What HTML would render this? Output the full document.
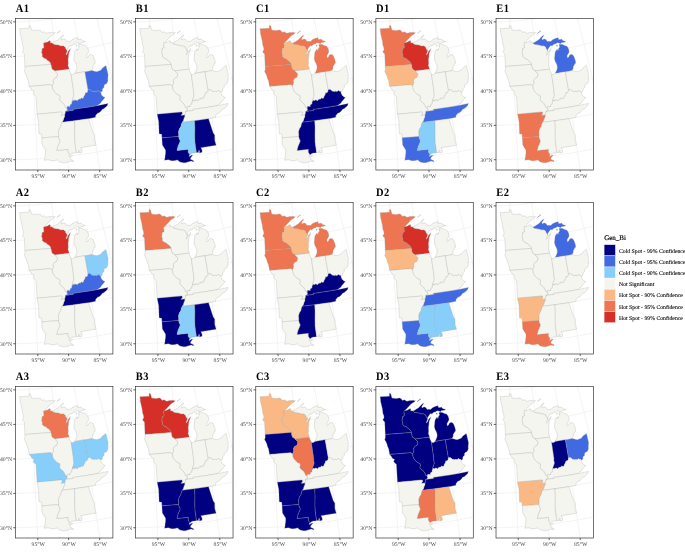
<!DOCTYPE html>
<html><head><meta charset="utf-8"><style>
html,body{margin:0;padding:0;background:#fff;}
svg{display:block;will-change:transform;}
text{text-rendering:geometricPrecision;}
.t{font-family:"Liberation Serif",serif;font-weight:bold;font-size:11.4px;letter-spacing:0.5px;fill:#000;}
.al{font-family:"Liberation Serif",serif;font-size:5.75px;fill:#4d4d4d;}
.lt{font-family:"Liberation Serif",serif;font-size:7px;fill:#000;stroke:#000;stroke-width:0.18px;}
.ll{font-family:"Liberation Serif",serif;font-size:5.75px;fill:#000;stroke:#000;stroke-width:0.1px;}
.gr{fill:none;stroke:#e2e2e2;stroke-width:0.4;}
.st use{stroke:#a0a0a0;stroke-width:0.28;stroke-linejoin:round;}
.fr{fill:none;stroke:#333;stroke-width:0.68;}
.tk{stroke:#333;stroke-width:0.75;}
</style></head><body>
<svg width="685" height="552" viewBox="0 0 685 552">
<defs><clipPath id="cp"><rect x="0" y="0" width="97.40" height="151.50"/></clipPath><path id="grat" d="M-71.78,171.85 -68.63,172.19 -65.47,172.52 -62.31,172.84 -59.15,173.13 -55.99,173.41 -52.82,173.67 -49.66,173.91 -46.49,174.13 -43.32,174.34 -40.15,174.53 -36.97,174.70 -33.80,174.85 -30.63,174.98 -27.45,175.10 -24.27,175.20 -21.10,175.28 -17.92,175.34 -14.74,175.39 -11.56,175.41 -8.39,175.42 -5.21,175.41 -2.03,175.39 1.15,175.34 4.32,175.28 7.50,175.20 10.68,175.10 13.85,174.98 17.03,174.85 20.20,174.70 23.37,174.53 26.54,174.34 29.71,174.13 32.88,173.91 36.05,173.67 39.21,173.41 42.38,173.13 45.54,172.84 48.70,172.52 51.85,172.19 55.01,171.85 58.16,171.48 61.31,171.09 64.46,170.69 67.60,170.27 70.74,169.83 73.88,169.38 77.02,168.91 80.15,168.41 83.28,167.90 86.40,167.38 89.52,166.83 92.64,166.27 95.75,165.69 98.86,165.09 101.97,164.47 105.07,163.84 108.16,163.19 111.25,162.52 114.34,161.83 117.42,161.12 120.50,160.40 123.57,159.66 126.64,158.90 129.70,158.12 132.76,157.33 135.81,156.52 138.85,155.69 141.89,154.84 144.93,153.97 147.95,153.09 150.97,152.19 153.99,151.27 157.00,150.33 160.00,149.38 162.99,148.41 165.98,147.42 168.96,146.41 171.94,145.38 174.90,144.34 177.86,143.28 M-68.55,137.82 -65.56,138.16 -62.56,138.48 -59.56,138.78 -56.56,139.07 -53.56,139.34 -50.56,139.59 -47.55,139.83 -44.55,140.04 -41.54,140.24 -38.53,140.42 -35.52,140.59 -32.51,140.74 -29.49,140.87 -26.48,140.98 -23.47,141.08 -20.45,141.16 -17.44,141.22 -14.42,141.26 -11.40,141.29 -8.39,141.29 -5.37,141.29 -2.35,141.26 0.66,141.22 3.68,141.16 6.69,141.08 9.71,140.98 12.72,140.87 15.73,140.74 18.75,140.59 21.76,140.42 24.77,140.24 27.77,140.04 30.78,139.83 33.79,139.59 36.79,139.34 39.79,139.07 42.79,138.78 45.79,138.48 48.78,138.16 51.78,137.82 54.77,137.46 57.75,137.09 60.74,136.70 63.72,136.29 66.70,135.86 69.68,135.42 72.65,134.96 75.62,134.48 78.59,133.99 81.55,133.47 84.51,132.94 87.47,132.40 90.42,131.83 93.36,131.25 96.31,130.65 99.25,130.04 102.18,129.40 105.11,128.75 108.04,128.08 110.96,127.40 113.87,126.70 116.78,125.98 119.69,125.24 122.59,124.48 125.48,123.71 128.37,122.92 131.25,122.12 134.13,121.29 137.00,120.45 139.87,119.59 142.73,118.72 145.58,117.83 148.43,116.92 151.27,115.99 154.10,115.05 156.93,114.09 159.74,113.11 162.56,112.11 165.36,111.10 168.16,110.07 M-65.01,103.62 -62.20,103.95 -59.38,104.26 -56.56,104.55 -53.74,104.83 -50.91,105.09 -48.08,105.33 -45.26,105.55 -42.43,105.76 -39.59,105.96 -36.76,106.13 -33.93,106.29 -31.09,106.43 -28.26,106.56 -25.42,106.67 -22.58,106.76 -19.74,106.84 -16.90,106.90 -14.07,106.94 -11.23,106.96 -8.39,106.97 -5.55,106.96 -2.71,106.94 0.13,106.90 2.97,106.84 5.81,106.76 8.65,106.67 11.48,106.56 14.32,106.43 17.15,106.29 19.99,106.13 22.82,105.96 25.65,105.76 28.48,105.55 31.31,105.33 34.14,105.09 36.96,104.83 39.78,104.55 42.61,104.26 45.42,103.95 48.24,103.62 51.05,103.28 53.87,102.92 56.67,102.54 59.48,102.15 62.28,101.74 65.08,101.31 67.88,100.87 70.67,100.41 73.46,99.93 76.25,99.44 79.03,98.93 81.81,98.40 84.59,97.86 87.36,97.30 90.12,96.72 92.89,96.13 95.64,95.52 98.40,94.89 101.15,94.25 103.89,93.59 106.63,92.91 109.37,92.22 112.09,91.51 114.82,90.78 117.54,90.04 120.25,89.28 122.96,88.50 125.66,87.71 128.35,86.90 131.04,86.08 133.73,85.23 136.40,84.38 139.07,83.50 141.74,82.61 144.40,81.70 147.05,80.78 149.69,79.84 152.33,78.88 154.96,77.90 157.58,76.91 M-61.18,69.32 -58.56,69.63 -55.93,69.93 -53.30,70.21 -50.67,70.47 -48.04,70.72 -45.40,70.95 -42.76,71.17 -40.13,71.37 -37.49,71.55 -34.84,71.72 -32.20,71.87 -29.56,72.00 -26.91,72.12 -24.27,72.23 -21.62,72.32 -18.98,72.39 -16.33,72.44 -13.68,72.48 -11.03,72.51 -8.39,72.52 -5.74,72.51 -3.09,72.48 -0.44,72.44 2.20,72.39 4.85,72.32 7.50,72.23 10.14,72.12 12.79,72.00 15.43,71.87 18.07,71.72 20.71,71.55 23.35,71.37 25.99,71.17 28.63,70.95 31.26,70.72 33.90,70.47 36.53,70.21 39.16,69.93 41.78,69.63 44.41,69.32 47.03,68.99 49.65,68.65 52.27,68.29 54.88,67.92 57.50,67.53 60.11,67.12 62.71,66.70 65.31,66.26 67.91,65.80 70.51,65.33 73.10,64.85 75.69,64.34 78.27,63.83 80.85,63.29 83.43,62.74 86.00,62.18 88.57,61.59 91.13,61.00 93.69,60.38 96.25,59.76 98.80,59.11 101.34,58.45 103.88,57.77 106.41,57.08 108.94,56.38 111.47,55.65 113.98,54.91 116.50,54.16 119.00,53.39 121.50,52.60 124.00,51.80 126.49,50.98 128.97,50.15 131.44,49.30 133.91,48.44 136.38,47.56 138.83,46.66 141.28,45.75 143.72,44.82 146.16,43.88 M-57.07,34.98 -54.65,35.28 -52.23,35.56 -49.80,35.82 -47.38,36.07 -44.95,36.30 -42.52,36.52 -40.09,36.72 -37.65,36.91 -35.22,37.08 -32.79,37.24 -30.35,37.38 -27.91,37.51 -25.47,37.63 -23.03,37.72 -20.59,37.81 -18.15,37.87 -15.71,37.93 -13.27,37.96 -10.83,37.99 -8.39,37.99 -5.95,37.99 -3.50,37.96 -1.06,37.93 1.38,37.87 3.82,37.81 6.26,37.72 8.70,37.63 11.14,37.51 13.57,37.38 16.01,37.24 18.45,37.08 20.88,36.91 23.31,36.72 25.74,36.52 28.17,36.30 30.60,36.07 33.03,35.82 35.45,35.56 37.87,35.28 40.29,34.98 42.71,34.68 45.13,34.35 47.54,34.01 49.95,33.66 52.35,33.29 54.76,32.91 57.16,32.51 59.56,32.10 61.95,31.67 64.34,31.22 66.73,30.77 69.11,30.29 71.49,29.81 73.87,29.30 76.24,28.78 78.61,28.25 80.98,27.70 83.34,27.14 85.69,26.56 88.04,25.97 90.39,25.37 92.73,24.74 95.07,24.11 97.40,23.46 99.72,22.79 102.04,22.11 104.36,21.41 106.67,20.70 108.97,19.98 111.27,19.24 113.57,18.48 115.85,17.71 118.13,16.93 120.41,16.13 122.68,15.32 124.94,14.49 127.19,13.65 129.44,12.79 131.68,11.92 133.92,11.03 M-52.67,0.67 -50.47,0.95 -48.27,1.21 -46.07,1.45 -43.86,1.68 -41.65,1.90 -39.44,2.10 -37.23,2.29 -35.02,2.47 -32.80,2.63 -30.59,2.77 -28.37,2.91 -26.15,3.03 -23.93,3.13 -21.71,3.22 -19.49,3.30 -17.27,3.36 -15.05,3.41 -12.83,3.45 -10.61,3.47 -8.39,3.47 -6.17,3.47 -3.94,3.45 -1.72,3.41 0.50,3.36 2.72,3.30 4.94,3.22 7.16,3.13 9.38,3.03 11.60,2.91 13.81,2.77 16.03,2.63 18.24,2.47 20.46,2.29 22.67,2.10 24.88,1.90 27.09,1.68 29.29,1.45 31.50,1.21 33.70,0.95 35.90,0.67 38.10,0.39 40.29,0.09 42.49,-0.23 44.68,-0.56 46.87,-0.90 49.05,-1.25 51.23,-1.62 53.41,-2.01 55.59,-2.41 57.76,-2.82 59.93,-3.24 62.10,-3.68 64.26,-4.14 66.42,-4.60 68.58,-5.09 70.73,-5.58 72.88,-6.09 75.02,-6.61 77.16,-7.15 79.29,-7.70 81.42,-8.26 83.55,-8.84 85.67,-9.43 87.79,-10.03 89.90,-10.65 92.00,-11.28 94.10,-11.93 96.20,-12.59 98.29,-13.26 100.38,-13.95 102.46,-14.65 104.53,-15.36 106.60,-16.09 108.66,-16.83 110.71,-17.59 112.76,-18.35 114.81,-19.14 116.84,-19.93 118.87,-20.74 120.90,-21.56 M-48.01,-33.54 -46.04,-33.29 -44.07,-33.05 -42.10,-32.83 -40.13,-32.62 -38.15,-32.42 -36.17,-32.23 -34.20,-32.06 -32.22,-31.90 -30.23,-31.76 -28.25,-31.62 -26.27,-31.50 -24.28,-31.39 -22.30,-31.29 -20.31,-31.21 -18.33,-31.14 -16.34,-31.08 -14.35,-31.04 -12.36,-31.01 -10.38,-30.99 -8.39,-30.98 -6.40,-30.99 -4.41,-31.01 -2.42,-31.04 -0.44,-31.08 1.55,-31.14 3.54,-31.21 5.52,-31.29 7.51,-31.39 9.49,-31.50 11.48,-31.62 13.46,-31.76 15.44,-31.90 17.42,-32.06 19.40,-32.23 21.38,-32.42 23.35,-32.62 25.33,-32.83 27.30,-33.05 29.27,-33.29 31.24,-33.54 33.20,-33.80 35.17,-34.08 37.13,-34.36 39.09,-34.66 41.04,-34.98 43.00,-35.30 44.95,-35.64 46.90,-35.99 48.84,-36.35 50.79,-36.73 52.73,-37.12 54.66,-37.52 56.59,-37.93 58.52,-38.36 60.45,-38.80 62.37,-39.25 64.29,-39.72 66.20,-40.19 68.11,-40.68 70.02,-41.19 71.92,-41.70 73.82,-42.23 75.71,-42.77 77.60,-43.32 79.49,-43.88 81.37,-44.46 83.24,-45.05 85.11,-45.65 86.98,-46.26 88.83,-46.89 90.69,-47.53 92.54,-48.18 94.38,-48.84 96.22,-49.52 98.05,-50.21 99.88,-50.91 101.70,-51.62 103.51,-52.34 105.32,-53.08 107.12,-53.83 M-41.60,208.37 -41.47,205.00 -41.33,201.63 -41.18,198.25 -41.04,194.87 -40.89,191.49 -40.75,188.10 -40.60,184.71 -40.45,181.32 -40.30,177.92 -40.15,174.53 -39.99,171.13 -39.83,167.72 -39.68,164.32 -39.52,160.91 -39.36,157.50 -39.19,154.09 -39.03,150.68 -38.87,147.26 -38.70,143.84 -38.53,140.42 -38.36,137.00 -38.19,133.58 -38.02,130.15 -37.84,126.73 -37.66,123.30 -37.49,119.87 -37.31,116.44 -37.13,113.00 -36.94,109.57 -36.76,106.13 -36.58,102.70 -36.39,99.26 -36.20,95.82 -36.01,92.38 -35.82,88.94 -35.63,85.49 -35.44,82.05 -35.24,78.61 -35.04,75.16 -34.84,71.72 -34.65,68.27 -34.44,64.82 -34.24,61.38 -34.04,57.93 -33.83,54.48 -33.63,51.03 -33.42,47.59 -33.21,44.14 -33.00,40.69 -32.79,37.24 -32.57,33.79 -32.36,30.35 -32.14,26.90 -31.92,23.45 -31.70,20.00 -31.48,16.56 -31.26,13.11 -31.04,9.66 -30.81,6.22 -30.59,2.77 -30.36,-0.67 -30.13,-4.11 -29.90,-7.56 -29.67,-11.00 -29.44,-14.44 -29.20,-17.88 -28.97,-21.31 -28.73,-24.75 -28.49,-28.19 -28.25,-31.62 -28.01,-35.05 -27.77,-38.49 -27.53,-41.92 -27.28,-45.34 -27.03,-48.77 -26.79,-52.20 -26.54,-55.62 -26.29,-59.04 -26.04,-62.46 -25.79,-65.88 M-8.39,209.29 -8.39,205.91 -8.39,202.54 -8.39,199.16 -8.39,195.78 -8.39,192.39 -8.39,189.00 -8.39,185.61 -8.39,182.22 -8.39,178.82 -8.39,175.42 -8.39,172.02 -8.39,168.61 -8.39,165.21 -8.39,161.80 -8.39,158.39 -8.39,154.97 -8.39,151.56 -8.39,148.14 -8.39,144.72 -8.39,141.29 -8.39,137.87 -8.39,134.44 -8.39,131.01 -8.39,127.58 -8.39,124.15 -8.39,120.72 -8.39,117.28 -8.39,113.85 -8.39,110.41 -8.39,106.97 -8.39,103.53 -8.39,100.09 -8.39,96.64 -8.39,93.20 -8.39,89.76 -8.39,86.31 -8.39,82.86 -8.39,79.41 -8.39,75.97 -8.39,72.52 -8.39,69.07 -8.39,65.61 -8.39,62.16 -8.39,58.71 -8.39,55.26 -8.39,51.81 -8.39,48.35 -8.39,44.90 -8.39,41.45 -8.39,37.99 -8.39,34.54 -8.39,31.09 -8.39,27.64 -8.39,24.18 -8.39,20.73 -8.39,17.28 -8.39,13.83 -8.39,10.38 -8.39,6.92 -8.39,3.47 -8.39,0.02 -8.39,-3.42 -8.39,-6.87 -8.39,-10.32 -8.39,-13.77 -8.39,-17.21 -8.39,-20.65 -8.39,-24.10 -8.39,-27.54 -8.39,-30.98 -8.39,-34.42 -8.39,-37.86 -8.39,-41.29 -8.39,-44.73 -8.39,-48.16 -8.39,-51.59 -8.39,-55.02 -8.39,-58.45 -8.39,-61.88 -8.39,-65.30 M24.83,208.37 24.69,205.00 24.55,201.63 24.41,198.25 24.27,194.87 24.12,191.49 23.97,188.10 23.83,184.71 23.68,181.32 23.52,177.92 23.37,174.53 23.22,171.13 23.06,167.72 22.90,164.32 22.74,160.91 22.58,157.50 22.42,154.09 22.26,150.68 22.09,147.26 21.92,143.84 21.76,140.42 21.59,137.00 21.41,133.58 21.24,130.15 21.07,126.73 20.89,123.30 20.71,119.87 20.53,116.44 20.35,113.00 20.17,109.57 19.99,106.13 19.80,102.70 19.62,99.26 19.43,95.82 19.24,92.38 19.05,88.94 18.86,85.49 18.66,82.05 18.47,78.61 18.27,75.16 18.07,71.72 17.87,68.27 17.67,64.82 17.47,61.38 17.26,57.93 17.06,54.48 16.85,51.03 16.64,47.59 16.43,44.14 16.22,40.69 16.01,37.24 15.80,33.79 15.58,30.35 15.37,26.90 15.15,23.45 14.93,20.00 14.71,16.56 14.49,13.11 14.26,9.66 14.04,6.22 13.81,2.77 13.58,-0.67 13.36,-4.11 13.13,-7.56 12.89,-11.00 12.66,-14.44 12.43,-17.88 12.19,-21.31 11.96,-24.75 11.72,-28.19 11.48,-31.62 11.24,-35.05 10.99,-38.49 10.75,-41.92 10.51,-45.34 10.26,-48.77 10.01,-52.20 9.77,-55.62 9.52,-59.04 9.26,-62.46 9.01,-65.88 M57.93,205.64 57.65,202.27 57.37,198.90 57.08,195.53 56.80,192.15 56.51,188.78 56.21,185.39 55.92,182.01 55.62,178.63 55.31,175.24 55.01,171.85 54.70,168.45 54.39,165.06 54.07,161.66 53.75,158.26 53.43,154.86 53.11,151.45 52.78,148.05 52.45,144.64 52.11,141.23 51.78,137.82 51.44,134.40 51.09,130.99 50.75,127.57 50.40,124.16 50.05,120.74 49.69,117.32 49.33,113.89 48.97,110.47 48.61,107.05 48.24,103.62 47.87,100.19 47.50,96.77 47.12,93.34 46.74,89.91 46.36,86.48 45.98,83.05 45.59,79.62 45.20,76.19 44.81,72.75 44.41,69.32 44.01,65.89 43.61,62.45 43.20,59.02 42.80,55.59 42.39,52.15 41.97,48.72 41.56,45.28 41.14,41.85 40.72,38.42 40.29,34.98 39.87,31.55 39.44,28.12 39.00,24.68 38.57,21.25 38.13,17.82 37.69,14.39 37.25,10.96 36.80,7.53 36.35,4.10 35.90,0.67 35.45,-2.75 34.99,-6.18 34.53,-9.60 34.07,-13.03 33.60,-16.45 33.13,-19.87 32.66,-23.29 32.19,-26.71 31.72,-30.12 31.24,-33.54 30.76,-36.95 30.27,-40.36 29.79,-43.77 29.30,-47.18 28.81,-50.59 28.31,-53.99 27.82,-57.40 27.32,-60.80 26.82,-64.20 26.31,-67.59 M90.78,201.08 90.36,197.72 89.94,194.36 89.52,190.99 89.08,187.63 88.65,184.26 88.21,180.89 87.76,177.51 87.31,174.14 86.86,170.76 86.40,167.38 85.94,163.99 85.47,160.61 84.99,157.22 84.52,153.84 84.03,150.45 83.55,147.06 83.05,143.66 82.56,140.27 82.06,136.87 81.55,133.47 81.04,130.08 80.53,126.68 80.01,123.27 79.48,119.87 78.96,116.47 78.42,113.06 77.89,109.66 77.35,106.25 76.80,102.84 76.25,99.44 75.69,96.03 75.14,92.62 74.57,89.21 74.00,85.80 73.43,82.39 72.86,78.98 72.28,75.57 71.69,72.16 71.10,68.74 70.51,65.33 69.91,61.92 69.31,58.51 68.70,55.10 68.09,51.69 67.48,48.27 66.86,44.86 66.24,41.45 65.61,38.04 64.98,34.63 64.34,31.22 63.70,27.82 63.06,24.41 62.41,21.00 61.76,17.60 61.10,14.19 60.44,10.79 59.78,7.38 59.11,3.98 58.44,0.58 57.76,-2.82 57.08,-6.22 56.40,-9.61 55.71,-13.01 55.02,-16.40 54.32,-19.80 53.62,-23.19 52.92,-26.57 52.21,-29.96 51.50,-33.35 50.79,-36.73 50.07,-40.11 49.34,-43.49 48.62,-46.87 47.89,-50.24 47.15,-53.62 46.41,-56.99 45.67,-60.36 44.93,-63.72 44.18,-67.08 43.42,-70.45 M123.27,194.70 122.71,191.35 122.15,188.00 121.58,184.65 121.01,181.29 120.42,177.94 119.84,174.58 119.24,171.22 118.64,167.85 118.04,164.49 117.42,161.12 116.80,157.76 116.18,154.39 115.55,151.02 114.91,147.65 114.27,144.28 113.62,140.90 112.96,137.53 112.30,134.15 111.63,130.78 110.96,127.40 110.28,124.02 109.59,120.64 108.90,117.26 108.20,113.88 107.50,110.50 106.79,107.12 106.07,103.74 105.35,100.35 104.62,96.97 103.89,93.59 103.15,90.20 102.41,86.82 101.66,83.44 100.90,80.05 100.14,76.67 99.37,73.29 98.60,69.90 97.82,66.52 97.04,63.14 96.25,59.76 95.45,56.37 94.65,52.99 93.84,49.61 93.03,46.23 92.21,42.85 91.39,39.48 90.56,36.10 89.73,32.72 88.89,29.35 88.04,25.97 87.19,22.60 86.33,19.23 85.47,15.86 84.61,12.49 83.73,9.12 82.86,5.75 81.97,2.39 81.09,-0.98 80.19,-4.34 79.29,-7.70 78.39,-11.06 77.48,-14.41 76.57,-17.77 75.65,-21.12 74.72,-24.47 73.79,-27.82 72.86,-31.16 71.92,-34.51 70.97,-37.85 70.02,-41.19 69.07,-44.52 68.10,-47.86 67.14,-51.19 66.17,-54.52 65.19,-57.84 64.21,-61.16 63.23,-64.48 62.24,-67.80 61.24,-71.11 60.24,-74.43 M155.27,186.50 154.57,183.16 153.87,179.83 153.16,176.49 152.44,173.15 151.71,169.81 150.97,166.47 150.23,163.13 149.48,159.78 148.72,156.44 147.95,153.09 147.18,149.74 146.40,146.40 145.61,143.05 144.81,139.70 144.01,136.35 143.19,133.00 142.37,129.65 141.55,126.30 140.71,122.95 139.87,119.59 139.02,116.24 138.16,112.89 137.30,109.54 136.43,106.19 135.55,102.83 134.66,99.48 133.77,96.13 132.87,92.78 131.96,89.43 131.04,86.08 130.12,82.73 129.19,79.38 128.26,76.03 127.31,72.68 126.36,69.33 125.40,65.98 124.44,62.64 123.47,59.29 122.49,55.94 121.50,52.60 120.51,49.26 119.51,45.92 118.51,42.58 117.49,39.24 116.47,35.90 115.45,32.57 114.41,29.23 113.37,25.90 112.33,22.57 111.27,19.24 110.21,15.91 109.15,12.58 108.07,9.26 106.99,5.94 105.91,2.62 104.81,-0.70 103.71,-4.02 102.61,-7.33 101.50,-10.64 100.38,-13.95 99.25,-17.26 98.12,-20.56 96.98,-23.86 95.84,-27.16 94.68,-30.46 93.53,-33.75 92.36,-37.04 91.19,-40.33 90.02,-43.61 88.83,-46.89 87.65,-50.17 86.45,-53.44 85.25,-56.72 84.04,-59.98 82.83,-63.25 81.61,-66.51 80.38,-69.77 79.15,-73.02 77.91,-76.27 76.67,-79.52"/><g id="base"><path id="s_MN" d="M4.17,10.16 13.58,9.71 13.42,7.09 14.32,7.10 14.94,7.54 15.77,10.40 16.02,11.49 16.90,11.63 17.83,11.78 19.71,11.91 21.46,11.98 22.62,11.61 23.76,11.58 25.30,12.27 26.66,14.01 28.29,13.23 29.66,13.92 31.14,14.81 33.03,14.25 34.17,14.12 35.86,13.92 37.48,13.86 38.28,14.32 39.61,14.14 38.31,15.57 36.56,16.48 34.85,17.87 33.39,19.43 31.71,21.22 30.21,22.69 28.93,24.14 28.09,24.78 28.48,28.77 28.26,29.49 26.54,30.20 26.56,32.49 26.10,33.85 26.90,35.72 26.87,38.15 28.20,39.28 29.50,39.99 30.78,40.36 31.64,41.52 33.23,42.54 34.16,43.35 35.20,44.63 35.50,45.99 9.39,47.97 8.85,35.54 6.88,33.62 8.13,31.15 7.89,28.95 6.98,26.64 6.77,24.78 6.36,21.82 5.82,19.77 5.36,17.58 4.71,14.97 4.63,12.90 4.17,10.16Z"/><path id="s_WI" d="M28.93,24.14 31.28,23.83 33.06,22.81 34.41,22.10 35.03,23.42 34.68,24.50 36.10,24.34 36.97,24.45 37.63,25.20 38.58,25.85 43.48,26.61 45.11,27.22 46.09,27.30 47.14,27.21 48.53,27.43 49.15,28.32 49.80,28.43 50.44,30.43 51.22,31.36 51.67,32.70 51.20,33.82 50.69,35.30 50.41,36.74 51.27,35.91 52.03,34.39 52.78,32.87 53.58,31.69 54.66,30.82 55.03,30.05 54.41,32.26 53.66,33.79 53.11,35.63 52.99,37.40 52.96,38.81 52.62,39.91 52.59,42.01 52.80,44.43 52.41,46.94 52.86,48.28 53.36,49.25 53.47,50.71 39.15,52.47 38.78,51.88 36.90,51.05 36.25,49.73 35.85,48.38 35.50,45.99 35.20,44.63 34.16,43.35 33.23,42.54 31.64,41.52 30.78,40.36 29.50,39.99 28.20,39.28 26.87,38.15 26.90,35.72 26.10,33.85 26.56,32.49 26.54,30.20 28.26,29.49 28.48,28.77 28.09,24.78 28.93,24.14Z"/><path id="s_MI_UP" d="M51.67,32.70 51.22,31.36 50.44,30.43 49.80,28.43 49.15,28.32 48.53,27.43 47.14,27.21 46.09,27.30 45.11,27.22 43.48,26.61 38.58,25.85 37.63,25.20 36.97,24.45 38.90,23.86 40.62,22.39 42.41,21.59 43.65,20.23 45.30,18.60 46.52,17.23 48.10,16.78 47.51,17.57 46.51,18.77 45.79,20.27 46.20,21.47 47.29,20.75 48.45,20.58 49.95,21.05 51.21,22.95 53.11,22.79 54.81,22.93 56.24,21.42 57.55,20.70 59.77,19.73 62.09,19.30 62.26,19.20 62.41,21.00 64.34,20.98 65.43,20.42 67.00,22.22 68.54,22.62 69.85,23.06 68.28,23.73 66.88,24.02 65.67,24.05 64.52,25.19 63.06,24.41 61.08,24.21 59.83,25.36 58.18,25.65 57.06,26.20 55.88,27.81 55.23,26.86 53.92,27.78 52.72,29.38 51.74,30.93 51.67,32.70Z"/><path id="s_MI_LP" d="M64.61,25.66 66.55,26.06 68.43,26.89 70.53,27.52 71.83,29.03 72.66,30.63 73.13,33.36 72.30,34.95 71.02,37.34 71.42,39.38 72.75,38.41 73.44,36.84 75.23,35.76 76.90,36.46 78.06,38.34 79.42,42.31 79.68,44.74 78.74,45.16 78.08,47.00 77.20,47.76 77.30,49.51 76.23,52.00 69.42,53.55 69.34,53.14 59.18,54.93 60.42,52.34 61.25,50.09 61.14,47.30 60.61,45.63 59.11,42.72 58.41,40.03 58.74,37.51 58.88,35.38 59.25,33.20 60.28,31.97 61.13,30.41 61.71,31.71 62.16,31.98 62.40,30.88 62.77,29.40 63.83,28.50 63.40,27.52 62.91,26.20 64.61,25.66Z"/><path id="s_IA" d="M9.39,47.97 35.50,45.99 35.85,48.38 36.25,49.73 36.90,51.05 38.78,51.88 39.15,52.47 40.53,53.77 41.95,54.99 41.94,57.08 41.11,58.92 39.14,59.85 37.77,61.74 38.06,64.49 36.69,67.55 34.91,66.14 13.81,67.95 13.25,65.07 12.75,62.33 11.71,59.96 11.08,57.57 9.94,54.93 8.85,53.17 9.51,50.73 9.39,47.97Z"/><path id="s_IL" d="M53.47,50.71 39.15,52.47 40.53,53.77 41.95,54.99 41.94,57.08 41.11,58.92 39.14,59.85 37.77,61.74 38.06,64.49 36.69,67.55 37.05,70.15 38.09,72.48 39.89,74.37 41.39,75.93 44.25,77.34 44.44,79.06 43.86,81.21 45.44,83.11 47.52,84.60 49.20,87.17 49.68,88.85 51.30,89.48 51.63,88.95 52.05,87.85 53.57,87.99 54.34,88.38 54.75,86.37 56.33,85.38 56.35,83.84 56.79,83.01 56.94,80.89 57.78,79.02 58.51,76.47 57.86,73.77 57.98,72.00 55.63,55.91 55.08,54.59 54.37,53.30 53.47,50.71Z"/><path id="s_IN" d="M69.42,53.55 69.34,53.14 59.18,54.93 57.40,56.19 55.63,55.91 57.98,72.00 57.86,73.77 58.51,76.47 57.78,79.02 56.94,80.89 56.79,83.01 57.37,82.02 58.20,82.10 59.12,82.38 59.11,81.48 60.63,81.74 61.77,82.40 62.49,81.31 63.43,80.95 64.29,80.46 65.15,80.67 65.77,79.37 66.65,80.07 67.26,80.10 67.99,79.49 68.49,77.86 69.41,76.43 69.77,75.31 70.00,74.36 70.98,74.39 71.61,73.93 72.17,73.33 72.54,72.35 72.16,71.72 72.52,71.30 69.42,53.55Z"/><path id="s_OH" d="M76.23,52.00 69.42,53.55 72.52,71.30 73.17,71.32 74.16,71.06 75.54,71.78 76.15,72.72 77.24,72.72 78.71,73.28 79.96,72.68 81.04,73.16 81.64,72.90 82.55,71.93 83.66,72.83 84.49,72.87 85.07,73.59 86.36,73.17 86.93,71.91 86.92,70.50 88.01,69.19 88.72,68.67 88.44,67.32 89.48,65.80 91.00,65.31 92.17,63.25 92.39,61.77 92.26,60.02 92.56,57.80 92.60,56.08 90.49,47.01 88.76,48.14 86.97,49.49 85.34,51.65 83.87,52.13 81.47,53.23 79.82,52.88 78.17,52.52 76.23,52.00Z"/><path id="s_MO" d="M13.81,67.95 34.91,66.14 36.69,67.55 37.05,70.15 38.09,72.48 39.89,74.37 41.39,75.93 44.25,77.34 44.44,79.06 43.86,81.21 45.44,83.11 47.52,84.60 49.20,87.17 49.68,88.85 51.30,89.48 51.84,90.66 51.73,92.07 49.88,93.00 49.80,94.75 49.16,96.56 45.39,97.01 46.72,94.78 46.29,93.44 21.54,95.69 20.51,77.79 18.88,76.51 17.72,74.85 18.79,73.06 16.49,71.81 15.32,69.80 13.81,67.95Z"/><path id="s_KY" d="M85.07,73.59 84.49,72.87 83.66,72.83 82.55,71.93 81.64,72.90 81.04,73.16 79.96,72.68 78.71,73.28 77.24,72.72 76.15,72.72 75.54,71.78 74.16,71.06 73.17,71.32 72.52,71.30 72.16,71.72 72.54,72.35 72.17,73.33 71.61,73.93 70.98,74.39 70.00,74.36 69.77,75.31 69.41,76.43 68.49,77.86 67.99,79.49 67.26,80.10 66.65,80.07 65.77,79.37 65.15,80.67 64.29,80.46 63.43,80.95 62.49,81.31 61.77,82.40 60.63,81.74 59.11,81.48 59.12,82.38 58.20,82.10 57.37,82.02 56.79,83.01 56.35,83.84 56.33,85.38 54.75,86.37 54.34,88.38 53.57,87.99 52.05,87.85 51.63,88.95 51.30,89.48 51.84,90.66 51.73,92.07 49.88,93.00 57.75,91.94 57.59,90.71 58.83,90.81 68.97,89.28 74.44,88.39 81.64,87.16 83.51,85.73 85.01,84.72 85.65,83.66 86.30,82.68 87.24,81.77 88.18,80.86 89.61,78.85 88.57,78.65 87.30,77.86 86.24,76.67 85.47,75.07 85.07,73.59Z"/><path id="s_TN" d="M81.64,87.16 74.44,88.39 68.97,89.28 58.83,90.81 57.59,90.71 57.75,91.94 49.88,93.00 49.80,94.75 49.16,96.56 49.04,97.97 48.15,100.16 47.53,102.32 46.55,103.82 59.03,102.21 72.93,100.16 80.04,98.81 79.97,97.35 80.37,96.71 81.31,95.54 82.02,94.70 83.90,94.05 85.84,92.17 86.71,90.72 88.31,90.18 90.26,88.56 91.69,87.18 92.48,84.95 81.64,87.16Z"/><path id="s_AR" d="M21.54,95.69 46.29,93.44 46.72,94.78 45.39,97.01 49.16,96.56 49.04,97.97 48.15,100.16 47.53,102.32 46.55,103.82 45.63,106.00 45.27,108.12 43.77,110.37 42.89,113.23 43.14,115.97 43.04,118.05 26.28,119.37 26.05,115.74 23.48,115.29 23.05,103.18 21.54,95.69Z"/><path id="s_LA" d="M26.28,119.37 43.04,118.05 43.52,120.08 44.62,122.38 43.67,124.90 42.44,127.79 41.77,130.27 41.44,132.02 52.69,130.80 52.56,133.58 53.66,135.52 54.46,136.25 53.13,137.45 53.87,138.12 56.36,136.50 56.97,137.12 55.06,139.15 54.74,140.71 57.56,142.02 58.26,142.90 57.56,143.19 55.78,142.52 53.81,142.96 52.03,143.51 49.96,144.23 47.83,144.26 44.28,143.45 42.78,142.23 41.55,141.31 40.67,141.74 38.22,142.31 35.78,142.17 32.68,141.19 28.78,141.69 29.28,139.94 29.45,137.86 29.95,134.39 29.95,131.64 28.30,129.01 26.72,126.43 26.28,119.37Z"/><path id="s_MS" d="M59.03,102.21 46.55,103.82 45.63,106.00 45.27,108.12 43.77,110.37 42.89,113.23 43.14,115.97 43.04,118.05 43.52,120.08 44.62,122.38 43.67,124.90 42.44,127.79 41.77,130.27 41.44,132.02 52.69,130.80 52.56,133.58 53.66,135.52 54.46,136.25 55.74,135.27 57.47,134.50 59.28,134.47 60.86,134.05 59.41,123.71 59.20,117.49 59.32,109.48 59.03,102.21Z"/><path id="s_AL" d="M72.93,100.16 59.03,102.21 59.32,109.48 59.20,117.49 59.41,123.71 60.86,134.05 62.84,133.99 63.19,131.86 63.82,132.12 63.82,134.54 66.45,133.82 66.49,131.73 65.26,129.13 80.53,126.68 79.92,124.69 79.10,122.04 79.09,119.24 79.11,116.72 77.53,114.13 72.93,100.16Z"/><path id="s_MI_IR" d="M41.37,14.75 44.59,12.19 44.87,12.50 41.72,14.91Z"/><path id="s_MI_BI" d="M60.42,26.45 61.10,26.47 61.45,27.53 61.03,27.96 60.58,27.34Z"/></g></defs><g transform="translate(15.50,18.50)"><text class="t" transform="translate(0.2,-6.8) scale(0.92,1)">A1</text><g clip-path="url(#cp)"><rect x="0" y="0" width="97.4" height="151.5" fill="#fff"/><use href="#grat" class="gr"/><g class="st"><use href="#s_MN" fill="#F5F5F0"/><use href="#s_WI" fill="#D62F27"/><use href="#s_MI_UP" fill="#F5F5F0"/><use href="#s_MI_LP" fill="#F5F5F0"/><use href="#s_IA" fill="#F5F5F0"/><use href="#s_IL" fill="#F5F5F0"/><use href="#s_IN" fill="#F5F5F0"/><use href="#s_OH" fill="#4169E1"/><use href="#s_MO" fill="#F5F5F0"/><use href="#s_KY" fill="#4169E1"/><use href="#s_TN" fill="#000080"/><use href="#s_AR" fill="#F5F5F0"/><use href="#s_LA" fill="#F5F5F0"/><use href="#s_MS" fill="#F5F5F0"/><use href="#s_AL" fill="#F5F5F0"/><use href="#s_MI_IR" fill="#F5F5F0"/><use href="#s_MI_BI" fill="#F5F5F0"/></g></g><rect x="0" y="0" width="97.4" height="151.5" class="fr"/><line x1="-2.3" x2="0" y1="141.23" y2="141.23" class="tk"/><text class="al" x="-3.4" y="143.23" text-anchor="end">30°N</text><line x1="-2.3" x2="0" y1="106.90" y2="106.90" class="tk"/><text class="al" x="-3.4" y="108.90" text-anchor="end">35°N</text><line x1="-2.3" x2="0" y1="72.44" y2="72.44" class="tk"/><text class="al" x="-3.4" y="74.44" text-anchor="end">40°N</text><line x1="-2.3" x2="0" y1="37.91" y2="37.91" class="tk"/><text class="al" x="-3.4" y="39.91" text-anchor="end">45°N</text><line x1="-2.3" x2="0" y1="3.37" y2="3.37" class="tk"/><text class="al" x="-3.4" y="5.37" text-anchor="end">50°N</text><line x1="22.30" x2="22.30" y1="151.5" y2="153.6" class="tk"/><text class="al" x="22.80" y="159.50" text-anchor="middle">95°W</text><line x1="53.11" x2="53.11" y1="151.5" y2="153.6" class="tk"/><text class="al" x="53.61" y="159.50" text-anchor="middle">90°W</text><line x1="84.18" x2="84.18" y1="151.5" y2="153.6" class="tk"/><text class="al" x="84.68" y="159.50" text-anchor="middle">85°W</text></g><g transform="translate(135.63,18.50)"><text class="t" transform="translate(0.2,-6.8) scale(0.92,1)">B1</text><g clip-path="url(#cp)"><rect x="0" y="0" width="97.4" height="151.5" fill="#fff"/><use href="#grat" class="gr"/><g class="st"><use href="#s_MN" fill="#F5F5F0"/><use href="#s_WI" fill="#F5F5F0"/><use href="#s_MI_UP" fill="#F5F5F0"/><use href="#s_MI_LP" fill="#F5F5F0"/><use href="#s_IA" fill="#F5F5F0"/><use href="#s_IL" fill="#F5F5F0"/><use href="#s_IN" fill="#F5F5F0"/><use href="#s_OH" fill="#F5F5F0"/><use href="#s_MO" fill="#F5F5F0"/><use href="#s_KY" fill="#F5F5F0"/><use href="#s_TN" fill="#F5F5F0"/><use href="#s_AR" fill="#000080"/><use href="#s_LA" fill="#000080"/><use href="#s_MS" fill="#87CEFA"/><use href="#s_AL" fill="#000080"/><use href="#s_MI_IR" fill="#F5F5F0"/><use href="#s_MI_BI" fill="#F5F5F0"/></g></g><rect x="0" y="0" width="97.4" height="151.5" class="fr"/><line x1="-2.3" x2="0" y1="141.23" y2="141.23" class="tk"/><text class="al" x="-3.4" y="143.23" text-anchor="end">30°N</text><line x1="-2.3" x2="0" y1="106.90" y2="106.90" class="tk"/><text class="al" x="-3.4" y="108.90" text-anchor="end">35°N</text><line x1="-2.3" x2="0" y1="72.44" y2="72.44" class="tk"/><text class="al" x="-3.4" y="74.44" text-anchor="end">40°N</text><line x1="-2.3" x2="0" y1="37.91" y2="37.91" class="tk"/><text class="al" x="-3.4" y="39.91" text-anchor="end">45°N</text><line x1="-2.3" x2="0" y1="3.37" y2="3.37" class="tk"/><text class="al" x="-3.4" y="5.37" text-anchor="end">50°N</text><line x1="22.30" x2="22.30" y1="151.5" y2="153.6" class="tk"/><text class="al" x="22.80" y="159.50" text-anchor="middle">95°W</text><line x1="53.11" x2="53.11" y1="151.5" y2="153.6" class="tk"/><text class="al" x="53.61" y="159.50" text-anchor="middle">90°W</text><line x1="84.18" x2="84.18" y1="151.5" y2="153.6" class="tk"/><text class="al" x="84.68" y="159.50" text-anchor="middle">85°W</text></g><g transform="translate(255.76,18.50)"><text class="t" transform="translate(0.2,-6.8) scale(0.92,1)">C1</text><g clip-path="url(#cp)"><rect x="0" y="0" width="97.4" height="151.5" fill="#fff"/><use href="#grat" class="gr"/><g class="st"><use href="#s_MN" fill="#ED7551"/><use href="#s_WI" fill="#FAB984"/><use href="#s_MI_UP" fill="#ED7551"/><use href="#s_MI_LP" fill="#ED7551"/><use href="#s_IA" fill="#ED7551"/><use href="#s_IL" fill="#F5F5F0"/><use href="#s_IN" fill="#F5F5F0"/><use href="#s_OH" fill="#F5F5F0"/><use href="#s_MO" fill="#F5F5F0"/><use href="#s_KY" fill="#000080"/><use href="#s_TN" fill="#000080"/><use href="#s_AR" fill="#F5F5F0"/><use href="#s_LA" fill="#F5F5F0"/><use href="#s_MS" fill="#000080"/><use href="#s_AL" fill="#F5F5F0"/><use href="#s_MI_IR" fill="#ED7551"/><use href="#s_MI_BI" fill="#ED7551"/></g></g><rect x="0" y="0" width="97.4" height="151.5" class="fr"/><line x1="-2.3" x2="0" y1="141.23" y2="141.23" class="tk"/><text class="al" x="-3.4" y="143.23" text-anchor="end">30°N</text><line x1="-2.3" x2="0" y1="106.90" y2="106.90" class="tk"/><text class="al" x="-3.4" y="108.90" text-anchor="end">35°N</text><line x1="-2.3" x2="0" y1="72.44" y2="72.44" class="tk"/><text class="al" x="-3.4" y="74.44" text-anchor="end">40°N</text><line x1="-2.3" x2="0" y1="37.91" y2="37.91" class="tk"/><text class="al" x="-3.4" y="39.91" text-anchor="end">45°N</text><line x1="-2.3" x2="0" y1="3.37" y2="3.37" class="tk"/><text class="al" x="-3.4" y="5.37" text-anchor="end">50°N</text><line x1="22.30" x2="22.30" y1="151.5" y2="153.6" class="tk"/><text class="al" x="22.80" y="159.50" text-anchor="middle">95°W</text><line x1="53.11" x2="53.11" y1="151.5" y2="153.6" class="tk"/><text class="al" x="53.61" y="159.50" text-anchor="middle">90°W</text><line x1="84.18" x2="84.18" y1="151.5" y2="153.6" class="tk"/><text class="al" x="84.68" y="159.50" text-anchor="middle">85°W</text></g><g transform="translate(375.89,18.50)"><text class="t" transform="translate(0.2,-6.8) scale(0.92,1)">D1</text><g clip-path="url(#cp)"><rect x="0" y="0" width="97.4" height="151.5" fill="#fff"/><use href="#grat" class="gr"/><g class="st"><use href="#s_MN" fill="#ED7551"/><use href="#s_WI" fill="#D62F27"/><use href="#s_MI_UP" fill="#F5F5F0"/><use href="#s_MI_LP" fill="#F5F5F0"/><use href="#s_IA" fill="#FAB984"/><use href="#s_IL" fill="#F5F5F0"/><use href="#s_IN" fill="#F5F5F0"/><use href="#s_OH" fill="#F5F5F0"/><use href="#s_MO" fill="#F5F5F0"/><use href="#s_KY" fill="#F5F5F0"/><use href="#s_TN" fill="#4169E1"/><use href="#s_AR" fill="#F5F5F0"/><use href="#s_LA" fill="#4169E1"/><use href="#s_MS" fill="#87CEFA"/><use href="#s_AL" fill="#F5F5F0"/><use href="#s_MI_IR" fill="#F5F5F0"/><use href="#s_MI_BI" fill="#F5F5F0"/></g></g><rect x="0" y="0" width="97.4" height="151.5" class="fr"/><line x1="-2.3" x2="0" y1="141.23" y2="141.23" class="tk"/><text class="al" x="-3.4" y="143.23" text-anchor="end">30°N</text><line x1="-2.3" x2="0" y1="106.90" y2="106.90" class="tk"/><text class="al" x="-3.4" y="108.90" text-anchor="end">35°N</text><line x1="-2.3" x2="0" y1="72.44" y2="72.44" class="tk"/><text class="al" x="-3.4" y="74.44" text-anchor="end">40°N</text><line x1="-2.3" x2="0" y1="37.91" y2="37.91" class="tk"/><text class="al" x="-3.4" y="39.91" text-anchor="end">45°N</text><line x1="-2.3" x2="0" y1="3.37" y2="3.37" class="tk"/><text class="al" x="-3.4" y="5.37" text-anchor="end">50°N</text><line x1="22.30" x2="22.30" y1="151.5" y2="153.6" class="tk"/><text class="al" x="22.80" y="159.50" text-anchor="middle">95°W</text><line x1="53.11" x2="53.11" y1="151.5" y2="153.6" class="tk"/><text class="al" x="53.61" y="159.50" text-anchor="middle">90°W</text><line x1="84.18" x2="84.18" y1="151.5" y2="153.6" class="tk"/><text class="al" x="84.68" y="159.50" text-anchor="middle">85°W</text></g><g transform="translate(496.02,18.50)"><text class="t" transform="translate(0.2,-6.8) scale(0.92,1)">E1</text><g clip-path="url(#cp)"><rect x="0" y="0" width="97.4" height="151.5" fill="#fff"/><use href="#grat" class="gr"/><g class="st"><use href="#s_MN" fill="#F5F5F0"/><use href="#s_WI" fill="#F5F5F0"/><use href="#s_MI_UP" fill="#4169E1"/><use href="#s_MI_LP" fill="#4169E1"/><use href="#s_IA" fill="#F5F5F0"/><use href="#s_IL" fill="#F5F5F0"/><use href="#s_IN" fill="#F5F5F0"/><use href="#s_OH" fill="#F5F5F0"/><use href="#s_MO" fill="#F5F5F0"/><use href="#s_KY" fill="#F5F5F0"/><use href="#s_TN" fill="#F5F5F0"/><use href="#s_AR" fill="#ED7551"/><use href="#s_LA" fill="#ED7551"/><use href="#s_MS" fill="#F5F5F0"/><use href="#s_AL" fill="#F5F5F0"/><use href="#s_MI_IR" fill="#4169E1"/><use href="#s_MI_BI" fill="#4169E1"/></g></g><rect x="0" y="0" width="97.4" height="151.5" class="fr"/><line x1="-2.3" x2="0" y1="141.23" y2="141.23" class="tk"/><text class="al" x="-3.4" y="143.23" text-anchor="end">30°N</text><line x1="-2.3" x2="0" y1="106.90" y2="106.90" class="tk"/><text class="al" x="-3.4" y="108.90" text-anchor="end">35°N</text><line x1="-2.3" x2="0" y1="72.44" y2="72.44" class="tk"/><text class="al" x="-3.4" y="74.44" text-anchor="end">40°N</text><line x1="-2.3" x2="0" y1="37.91" y2="37.91" class="tk"/><text class="al" x="-3.4" y="39.91" text-anchor="end">45°N</text><line x1="-2.3" x2="0" y1="3.37" y2="3.37" class="tk"/><text class="al" x="-3.4" y="5.37" text-anchor="end">50°N</text><line x1="22.30" x2="22.30" y1="151.5" y2="153.6" class="tk"/><text class="al" x="22.80" y="159.50" text-anchor="middle">95°W</text><line x1="53.11" x2="53.11" y1="151.5" y2="153.6" class="tk"/><text class="al" x="53.61" y="159.50" text-anchor="middle">90°W</text><line x1="84.18" x2="84.18" y1="151.5" y2="153.6" class="tk"/><text class="al" x="84.68" y="159.50" text-anchor="middle">85°W</text></g><g transform="translate(15.50,202.50)"><text class="t" transform="translate(0.2,-6.8) scale(0.92,1)">A2</text><g clip-path="url(#cp)"><rect x="0" y="0" width="97.4" height="151.5" fill="#fff"/><use href="#grat" class="gr"/><g class="st"><use href="#s_MN" fill="#F5F5F0"/><use href="#s_WI" fill="#D62F27"/><use href="#s_MI_UP" fill="#F5F5F0"/><use href="#s_MI_LP" fill="#F5F5F0"/><use href="#s_IA" fill="#F5F5F0"/><use href="#s_IL" fill="#F5F5F0"/><use href="#s_IN" fill="#F5F5F0"/><use href="#s_OH" fill="#87CEFA"/><use href="#s_MO" fill="#F5F5F0"/><use href="#s_KY" fill="#4169E1"/><use href="#s_TN" fill="#000080"/><use href="#s_AR" fill="#F5F5F0"/><use href="#s_LA" fill="#F5F5F0"/><use href="#s_MS" fill="#F5F5F0"/><use href="#s_AL" fill="#F5F5F0"/><use href="#s_MI_IR" fill="#F5F5F0"/><use href="#s_MI_BI" fill="#F5F5F0"/></g></g><rect x="0" y="0" width="97.4" height="151.5" class="fr"/><line x1="-2.3" x2="0" y1="141.23" y2="141.23" class="tk"/><text class="al" x="-3.4" y="143.23" text-anchor="end">30°N</text><line x1="-2.3" x2="0" y1="106.90" y2="106.90" class="tk"/><text class="al" x="-3.4" y="108.90" text-anchor="end">35°N</text><line x1="-2.3" x2="0" y1="72.44" y2="72.44" class="tk"/><text class="al" x="-3.4" y="74.44" text-anchor="end">40°N</text><line x1="-2.3" x2="0" y1="37.91" y2="37.91" class="tk"/><text class="al" x="-3.4" y="39.91" text-anchor="end">45°N</text><line x1="-2.3" x2="0" y1="3.37" y2="3.37" class="tk"/><text class="al" x="-3.4" y="5.37" text-anchor="end">50°N</text><line x1="22.30" x2="22.30" y1="151.5" y2="153.6" class="tk"/><text class="al" x="22.80" y="159.50" text-anchor="middle">95°W</text><line x1="53.11" x2="53.11" y1="151.5" y2="153.6" class="tk"/><text class="al" x="53.61" y="159.50" text-anchor="middle">90°W</text><line x1="84.18" x2="84.18" y1="151.5" y2="153.6" class="tk"/><text class="al" x="84.68" y="159.50" text-anchor="middle">85°W</text></g><g transform="translate(135.63,202.50)"><text class="t" transform="translate(0.2,-6.8) scale(0.92,1)">B2</text><g clip-path="url(#cp)"><rect x="0" y="0" width="97.4" height="151.5" fill="#fff"/><use href="#grat" class="gr"/><g class="st"><use href="#s_MN" fill="#ED7551"/><use href="#s_WI" fill="#F5F5F0"/><use href="#s_MI_UP" fill="#F5F5F0"/><use href="#s_MI_LP" fill="#F5F5F0"/><use href="#s_IA" fill="#F5F5F0"/><use href="#s_IL" fill="#F5F5F0"/><use href="#s_IN" fill="#F5F5F0"/><use href="#s_OH" fill="#F5F5F0"/><use href="#s_MO" fill="#F5F5F0"/><use href="#s_KY" fill="#F5F5F0"/><use href="#s_TN" fill="#F5F5F0"/><use href="#s_AR" fill="#000080"/><use href="#s_LA" fill="#000080"/><use href="#s_MS" fill="#87CEFA"/><use href="#s_AL" fill="#000080"/><use href="#s_MI_IR" fill="#F5F5F0"/><use href="#s_MI_BI" fill="#F5F5F0"/></g></g><rect x="0" y="0" width="97.4" height="151.5" class="fr"/><line x1="-2.3" x2="0" y1="141.23" y2="141.23" class="tk"/><text class="al" x="-3.4" y="143.23" text-anchor="end">30°N</text><line x1="-2.3" x2="0" y1="106.90" y2="106.90" class="tk"/><text class="al" x="-3.4" y="108.90" text-anchor="end">35°N</text><line x1="-2.3" x2="0" y1="72.44" y2="72.44" class="tk"/><text class="al" x="-3.4" y="74.44" text-anchor="end">40°N</text><line x1="-2.3" x2="0" y1="37.91" y2="37.91" class="tk"/><text class="al" x="-3.4" y="39.91" text-anchor="end">45°N</text><line x1="-2.3" x2="0" y1="3.37" y2="3.37" class="tk"/><text class="al" x="-3.4" y="5.37" text-anchor="end">50°N</text><line x1="22.30" x2="22.30" y1="151.5" y2="153.6" class="tk"/><text class="al" x="22.80" y="159.50" text-anchor="middle">95°W</text><line x1="53.11" x2="53.11" y1="151.5" y2="153.6" class="tk"/><text class="al" x="53.61" y="159.50" text-anchor="middle">90°W</text><line x1="84.18" x2="84.18" y1="151.5" y2="153.6" class="tk"/><text class="al" x="84.68" y="159.50" text-anchor="middle">85°W</text></g><g transform="translate(255.76,202.50)"><text class="t" transform="translate(0.2,-6.8) scale(0.92,1)">C2</text><g clip-path="url(#cp)"><rect x="0" y="0" width="97.4" height="151.5" fill="#fff"/><use href="#grat" class="gr"/><g class="st"><use href="#s_MN" fill="#ED7551"/><use href="#s_WI" fill="#FAB984"/><use href="#s_MI_UP" fill="#ED7551"/><use href="#s_MI_LP" fill="#ED7551"/><use href="#s_IA" fill="#ED7551"/><use href="#s_IL" fill="#F5F5F0"/><use href="#s_IN" fill="#F5F5F0"/><use href="#s_OH" fill="#F5F5F0"/><use href="#s_MO" fill="#F5F5F0"/><use href="#s_KY" fill="#000080"/><use href="#s_TN" fill="#000080"/><use href="#s_AR" fill="#F5F5F0"/><use href="#s_LA" fill="#F5F5F0"/><use href="#s_MS" fill="#000080"/><use href="#s_AL" fill="#F5F5F0"/><use href="#s_MI_IR" fill="#ED7551"/><use href="#s_MI_BI" fill="#ED7551"/></g></g><rect x="0" y="0" width="97.4" height="151.5" class="fr"/><line x1="-2.3" x2="0" y1="141.23" y2="141.23" class="tk"/><text class="al" x="-3.4" y="143.23" text-anchor="end">30°N</text><line x1="-2.3" x2="0" y1="106.90" y2="106.90" class="tk"/><text class="al" x="-3.4" y="108.90" text-anchor="end">35°N</text><line x1="-2.3" x2="0" y1="72.44" y2="72.44" class="tk"/><text class="al" x="-3.4" y="74.44" text-anchor="end">40°N</text><line x1="-2.3" x2="0" y1="37.91" y2="37.91" class="tk"/><text class="al" x="-3.4" y="39.91" text-anchor="end">45°N</text><line x1="-2.3" x2="0" y1="3.37" y2="3.37" class="tk"/><text class="al" x="-3.4" y="5.37" text-anchor="end">50°N</text><line x1="22.30" x2="22.30" y1="151.5" y2="153.6" class="tk"/><text class="al" x="22.80" y="159.50" text-anchor="middle">95°W</text><line x1="53.11" x2="53.11" y1="151.5" y2="153.6" class="tk"/><text class="al" x="53.61" y="159.50" text-anchor="middle">90°W</text><line x1="84.18" x2="84.18" y1="151.5" y2="153.6" class="tk"/><text class="al" x="84.68" y="159.50" text-anchor="middle">85°W</text></g><g transform="translate(375.89,202.50)"><text class="t" transform="translate(0.2,-6.8) scale(0.92,1)">D2</text><g clip-path="url(#cp)"><rect x="0" y="0" width="97.4" height="151.5" fill="#fff"/><use href="#grat" class="gr"/><g class="st"><use href="#s_MN" fill="#ED7551"/><use href="#s_WI" fill="#D62F27"/><use href="#s_MI_UP" fill="#F5F5F0"/><use href="#s_MI_LP" fill="#F5F5F0"/><use href="#s_IA" fill="#FAB984"/><use href="#s_IL" fill="#F5F5F0"/><use href="#s_IN" fill="#F5F5F0"/><use href="#s_OH" fill="#F5F5F0"/><use href="#s_MO" fill="#F5F5F0"/><use href="#s_KY" fill="#F5F5F0"/><use href="#s_TN" fill="#4169E1"/><use href="#s_AR" fill="#F5F5F0"/><use href="#s_LA" fill="#4169E1"/><use href="#s_MS" fill="#87CEFA"/><use href="#s_AL" fill="#87CEFA"/><use href="#s_MI_IR" fill="#F5F5F0"/><use href="#s_MI_BI" fill="#F5F5F0"/></g></g><rect x="0" y="0" width="97.4" height="151.5" class="fr"/><line x1="-2.3" x2="0" y1="141.23" y2="141.23" class="tk"/><text class="al" x="-3.4" y="143.23" text-anchor="end">30°N</text><line x1="-2.3" x2="0" y1="106.90" y2="106.90" class="tk"/><text class="al" x="-3.4" y="108.90" text-anchor="end">35°N</text><line x1="-2.3" x2="0" y1="72.44" y2="72.44" class="tk"/><text class="al" x="-3.4" y="74.44" text-anchor="end">40°N</text><line x1="-2.3" x2="0" y1="37.91" y2="37.91" class="tk"/><text class="al" x="-3.4" y="39.91" text-anchor="end">45°N</text><line x1="-2.3" x2="0" y1="3.37" y2="3.37" class="tk"/><text class="al" x="-3.4" y="5.37" text-anchor="end">50°N</text><line x1="22.30" x2="22.30" y1="151.5" y2="153.6" class="tk"/><text class="al" x="22.80" y="159.50" text-anchor="middle">95°W</text><line x1="53.11" x2="53.11" y1="151.5" y2="153.6" class="tk"/><text class="al" x="53.61" y="159.50" text-anchor="middle">90°W</text><line x1="84.18" x2="84.18" y1="151.5" y2="153.6" class="tk"/><text class="al" x="84.68" y="159.50" text-anchor="middle">85°W</text></g><g transform="translate(496.02,202.50)"><text class="t" transform="translate(0.2,-6.8) scale(0.92,1)">E2</text><g clip-path="url(#cp)"><rect x="0" y="0" width="97.4" height="151.5" fill="#fff"/><use href="#grat" class="gr"/><g class="st"><use href="#s_MN" fill="#F5F5F0"/><use href="#s_WI" fill="#F5F5F0"/><use href="#s_MI_UP" fill="#4169E1"/><use href="#s_MI_LP" fill="#4169E1"/><use href="#s_IA" fill="#F5F5F0"/><use href="#s_IL" fill="#F5F5F0"/><use href="#s_IN" fill="#F5F5F0"/><use href="#s_OH" fill="#F5F5F0"/><use href="#s_MO" fill="#F5F5F0"/><use href="#s_KY" fill="#F5F5F0"/><use href="#s_TN" fill="#F5F5F0"/><use href="#s_AR" fill="#FAB984"/><use href="#s_LA" fill="#ED7551"/><use href="#s_MS" fill="#F5F5F0"/><use href="#s_AL" fill="#F5F5F0"/><use href="#s_MI_IR" fill="#4169E1"/><use href="#s_MI_BI" fill="#4169E1"/></g></g><rect x="0" y="0" width="97.4" height="151.5" class="fr"/><line x1="-2.3" x2="0" y1="141.23" y2="141.23" class="tk"/><text class="al" x="-3.4" y="143.23" text-anchor="end">30°N</text><line x1="-2.3" x2="0" y1="106.90" y2="106.90" class="tk"/><text class="al" x="-3.4" y="108.90" text-anchor="end">35°N</text><line x1="-2.3" x2="0" y1="72.44" y2="72.44" class="tk"/><text class="al" x="-3.4" y="74.44" text-anchor="end">40°N</text><line x1="-2.3" x2="0" y1="37.91" y2="37.91" class="tk"/><text class="al" x="-3.4" y="39.91" text-anchor="end">45°N</text><line x1="-2.3" x2="0" y1="3.37" y2="3.37" class="tk"/><text class="al" x="-3.4" y="5.37" text-anchor="end">50°N</text><line x1="22.30" x2="22.30" y1="151.5" y2="153.6" class="tk"/><text class="al" x="22.80" y="159.50" text-anchor="middle">95°W</text><line x1="53.11" x2="53.11" y1="151.5" y2="153.6" class="tk"/><text class="al" x="53.61" y="159.50" text-anchor="middle">90°W</text><line x1="84.18" x2="84.18" y1="151.5" y2="153.6" class="tk"/><text class="al" x="84.68" y="159.50" text-anchor="middle">85°W</text></g><g transform="translate(15.50,386.50)"><text class="t" transform="translate(0.2,-6.8) scale(0.92,1)">A3</text><g clip-path="url(#cp)"><rect x="0" y="0" width="97.4" height="151.5" fill="#fff"/><use href="#grat" class="gr"/><g class="st"><use href="#s_MN" fill="#F5F5F0"/><use href="#s_WI" fill="#ED7551"/><use href="#s_MI_UP" fill="#F5F5F0"/><use href="#s_MI_LP" fill="#F5F5F0"/><use href="#s_IA" fill="#F5F5F0"/><use href="#s_IL" fill="#F5F5F0"/><use href="#s_IN" fill="#87CEFA"/><use href="#s_OH" fill="#87CEFA"/><use href="#s_MO" fill="#87CEFA"/><use href="#s_KY" fill="#F5F5F0"/><use href="#s_TN" fill="#F5F5F0"/><use href="#s_AR" fill="#F5F5F0"/><use href="#s_LA" fill="#F5F5F0"/><use href="#s_MS" fill="#F5F5F0"/><use href="#s_AL" fill="#F5F5F0"/><use href="#s_MI_IR" fill="#F5F5F0"/><use href="#s_MI_BI" fill="#F5F5F0"/></g></g><rect x="0" y="0" width="97.4" height="151.5" class="fr"/><line x1="-2.3" x2="0" y1="141.23" y2="141.23" class="tk"/><text class="al" x="-3.4" y="143.23" text-anchor="end">30°N</text><line x1="-2.3" x2="0" y1="106.90" y2="106.90" class="tk"/><text class="al" x="-3.4" y="108.90" text-anchor="end">35°N</text><line x1="-2.3" x2="0" y1="72.44" y2="72.44" class="tk"/><text class="al" x="-3.4" y="74.44" text-anchor="end">40°N</text><line x1="-2.3" x2="0" y1="37.91" y2="37.91" class="tk"/><text class="al" x="-3.4" y="39.91" text-anchor="end">45°N</text><line x1="-2.3" x2="0" y1="3.37" y2="3.37" class="tk"/><text class="al" x="-3.4" y="5.37" text-anchor="end">50°N</text><line x1="22.30" x2="22.30" y1="151.5" y2="153.6" class="tk"/><text class="al" x="22.80" y="159.50" text-anchor="middle">95°W</text><line x1="53.11" x2="53.11" y1="151.5" y2="153.6" class="tk"/><text class="al" x="53.61" y="159.50" text-anchor="middle">90°W</text><line x1="84.18" x2="84.18" y1="151.5" y2="153.6" class="tk"/><text class="al" x="84.68" y="159.50" text-anchor="middle">85°W</text></g><g transform="translate(135.63,386.50)"><text class="t" transform="translate(0.2,-6.8) scale(0.92,1)">B3</text><g clip-path="url(#cp)"><rect x="0" y="0" width="97.4" height="151.5" fill="#fff"/><use href="#grat" class="gr"/><g class="st"><use href="#s_MN" fill="#D62F27"/><use href="#s_WI" fill="#D62F27"/><use href="#s_MI_UP" fill="#F5F5F0"/><use href="#s_MI_LP" fill="#F5F5F0"/><use href="#s_IA" fill="#F5F5F0"/><use href="#s_IL" fill="#F5F5F0"/><use href="#s_IN" fill="#F5F5F0"/><use href="#s_OH" fill="#F5F5F0"/><use href="#s_MO" fill="#F5F5F0"/><use href="#s_KY" fill="#F5F5F0"/><use href="#s_TN" fill="#F5F5F0"/><use href="#s_AR" fill="#000080"/><use href="#s_LA" fill="#000080"/><use href="#s_MS" fill="#000080"/><use href="#s_AL" fill="#000080"/><use href="#s_MI_IR" fill="#F5F5F0"/><use href="#s_MI_BI" fill="#F5F5F0"/></g></g><rect x="0" y="0" width="97.4" height="151.5" class="fr"/><line x1="-2.3" x2="0" y1="141.23" y2="141.23" class="tk"/><text class="al" x="-3.4" y="143.23" text-anchor="end">30°N</text><line x1="-2.3" x2="0" y1="106.90" y2="106.90" class="tk"/><text class="al" x="-3.4" y="108.90" text-anchor="end">35°N</text><line x1="-2.3" x2="0" y1="72.44" y2="72.44" class="tk"/><text class="al" x="-3.4" y="74.44" text-anchor="end">40°N</text><line x1="-2.3" x2="0" y1="37.91" y2="37.91" class="tk"/><text class="al" x="-3.4" y="39.91" text-anchor="end">45°N</text><line x1="-2.3" x2="0" y1="3.37" y2="3.37" class="tk"/><text class="al" x="-3.4" y="5.37" text-anchor="end">50°N</text><line x1="22.30" x2="22.30" y1="151.5" y2="153.6" class="tk"/><text class="al" x="22.80" y="159.50" text-anchor="middle">95°W</text><line x1="53.11" x2="53.11" y1="151.5" y2="153.6" class="tk"/><text class="al" x="53.61" y="159.50" text-anchor="middle">90°W</text><line x1="84.18" x2="84.18" y1="151.5" y2="153.6" class="tk"/><text class="al" x="84.68" y="159.50" text-anchor="middle">85°W</text></g><g transform="translate(255.76,386.50)"><text class="t" transform="translate(0.2,-6.8) scale(0.92,1)">C3</text><g clip-path="url(#cp)"><rect x="0" y="0" width="97.4" height="151.5" fill="#fff"/><use href="#grat" class="gr"/><g class="st"><use href="#s_MN" fill="#FAB984"/><use href="#s_WI" fill="#FAB984"/><use href="#s_MI_UP" fill="#F5F5F0"/><use href="#s_MI_LP" fill="#F5F5F0"/><use href="#s_IA" fill="#000080"/><use href="#s_IL" fill="#ED7551"/><use href="#s_IN" fill="#000080"/><use href="#s_OH" fill="#F5F5F0"/><use href="#s_MO" fill="#F5F5F0"/><use href="#s_KY" fill="#F5F5F0"/><use href="#s_TN" fill="#F5F5F0"/><use href="#s_AR" fill="#000080"/><use href="#s_LA" fill="#000080"/><use href="#s_MS" fill="#000080"/><use href="#s_AL" fill="#000080"/><use href="#s_MI_IR" fill="#F5F5F0"/><use href="#s_MI_BI" fill="#F5F5F0"/></g></g><rect x="0" y="0" width="97.4" height="151.5" class="fr"/><line x1="-2.3" x2="0" y1="141.23" y2="141.23" class="tk"/><text class="al" x="-3.4" y="143.23" text-anchor="end">30°N</text><line x1="-2.3" x2="0" y1="106.90" y2="106.90" class="tk"/><text class="al" x="-3.4" y="108.90" text-anchor="end">35°N</text><line x1="-2.3" x2="0" y1="72.44" y2="72.44" class="tk"/><text class="al" x="-3.4" y="74.44" text-anchor="end">40°N</text><line x1="-2.3" x2="0" y1="37.91" y2="37.91" class="tk"/><text class="al" x="-3.4" y="39.91" text-anchor="end">45°N</text><line x1="-2.3" x2="0" y1="3.37" y2="3.37" class="tk"/><text class="al" x="-3.4" y="5.37" text-anchor="end">50°N</text><line x1="22.30" x2="22.30" y1="151.5" y2="153.6" class="tk"/><text class="al" x="22.80" y="159.50" text-anchor="middle">95°W</text><line x1="53.11" x2="53.11" y1="151.5" y2="153.6" class="tk"/><text class="al" x="53.61" y="159.50" text-anchor="middle">90°W</text><line x1="84.18" x2="84.18" y1="151.5" y2="153.6" class="tk"/><text class="al" x="84.68" y="159.50" text-anchor="middle">85°W</text></g><g transform="translate(375.89,386.50)"><text class="t" transform="translate(0.2,-6.8) scale(0.92,1)">D3</text><g clip-path="url(#cp)"><rect x="0" y="0" width="97.4" height="151.5" fill="#fff"/><use href="#grat" class="gr"/><g class="st"><use href="#s_MN" fill="#000080"/><use href="#s_WI" fill="#000080"/><use href="#s_MI_UP" fill="#000080"/><use href="#s_MI_LP" fill="#000080"/><use href="#s_IA" fill="#000080"/><use href="#s_IL" fill="#000080"/><use href="#s_IN" fill="#000080"/><use href="#s_OH" fill="#000080"/><use href="#s_MO" fill="#000080"/><use href="#s_KY" fill="#F5F5F0"/><use href="#s_TN" fill="#000080"/><use href="#s_AR" fill="#F5F5F0"/><use href="#s_LA" fill="#F5F5F0"/><use href="#s_MS" fill="#ED7551"/><use href="#s_AL" fill="#FAB984"/><use href="#s_MI_IR" fill="#000080"/><use href="#s_MI_BI" fill="#000080"/></g></g><rect x="0" y="0" width="97.4" height="151.5" class="fr"/><line x1="-2.3" x2="0" y1="141.23" y2="141.23" class="tk"/><text class="al" x="-3.4" y="143.23" text-anchor="end">30°N</text><line x1="-2.3" x2="0" y1="106.90" y2="106.90" class="tk"/><text class="al" x="-3.4" y="108.90" text-anchor="end">35°N</text><line x1="-2.3" x2="0" y1="72.44" y2="72.44" class="tk"/><text class="al" x="-3.4" y="74.44" text-anchor="end">40°N</text><line x1="-2.3" x2="0" y1="37.91" y2="37.91" class="tk"/><text class="al" x="-3.4" y="39.91" text-anchor="end">45°N</text><line x1="-2.3" x2="0" y1="3.37" y2="3.37" class="tk"/><text class="al" x="-3.4" y="5.37" text-anchor="end">50°N</text><line x1="22.30" x2="22.30" y1="151.5" y2="153.6" class="tk"/><text class="al" x="22.80" y="159.50" text-anchor="middle">95°W</text><line x1="53.11" x2="53.11" y1="151.5" y2="153.6" class="tk"/><text class="al" x="53.61" y="159.50" text-anchor="middle">90°W</text><line x1="84.18" x2="84.18" y1="151.5" y2="153.6" class="tk"/><text class="al" x="84.68" y="159.50" text-anchor="middle">85°W</text></g><g transform="translate(496.02,386.50)"><text class="t" transform="translate(0.2,-6.8) scale(0.92,1)">E3</text><g clip-path="url(#cp)"><rect x="0" y="0" width="97.4" height="151.5" fill="#fff"/><use href="#grat" class="gr"/><g class="st"><use href="#s_MN" fill="#F5F5F0"/><use href="#s_WI" fill="#F5F5F0"/><use href="#s_MI_UP" fill="#F5F5F0"/><use href="#s_MI_LP" fill="#F5F5F0"/><use href="#s_IA" fill="#F5F5F0"/><use href="#s_IL" fill="#F5F5F0"/><use href="#s_IN" fill="#000080"/><use href="#s_OH" fill="#4169E1"/><use href="#s_MO" fill="#F5F5F0"/><use href="#s_KY" fill="#F5F5F0"/><use href="#s_TN" fill="#F5F5F0"/><use href="#s_AR" fill="#FAB984"/><use href="#s_LA" fill="#F5F5F0"/><use href="#s_MS" fill="#F5F5F0"/><use href="#s_AL" fill="#F5F5F0"/><use href="#s_MI_IR" fill="#F5F5F0"/><use href="#s_MI_BI" fill="#F5F5F0"/></g></g><rect x="0" y="0" width="97.4" height="151.5" class="fr"/><line x1="-2.3" x2="0" y1="141.23" y2="141.23" class="tk"/><text class="al" x="-3.4" y="143.23" text-anchor="end">30°N</text><line x1="-2.3" x2="0" y1="106.90" y2="106.90" class="tk"/><text class="al" x="-3.4" y="108.90" text-anchor="end">35°N</text><line x1="-2.3" x2="0" y1="72.44" y2="72.44" class="tk"/><text class="al" x="-3.4" y="74.44" text-anchor="end">40°N</text><line x1="-2.3" x2="0" y1="37.91" y2="37.91" class="tk"/><text class="al" x="-3.4" y="39.91" text-anchor="end">45°N</text><line x1="-2.3" x2="0" y1="3.37" y2="3.37" class="tk"/><text class="al" x="-3.4" y="5.37" text-anchor="end">50°N</text><line x1="22.30" x2="22.30" y1="151.5" y2="153.6" class="tk"/><text class="al" x="22.80" y="159.50" text-anchor="middle">95°W</text><line x1="53.11" x2="53.11" y1="151.5" y2="153.6" class="tk"/><text class="al" x="53.61" y="159.50" text-anchor="middle">90°W</text><line x1="84.18" x2="84.18" y1="151.5" y2="153.6" class="tk"/><text class="al" x="84.68" y="159.50" text-anchor="middle">85°W</text></g><g><text class="lt" x="604.2" y="240.2">Gen_Bi</text><rect x="604.1" y="244.70" width="11.3" height="11.14" fill="#000080" stroke="#fff" stroke-width="0.4"/><text class="ll" x="619.0" y="252.80">Cold Spot - 99% Confidence</text><rect x="604.1" y="255.84" width="11.3" height="11.14" fill="#4169E1" stroke="#fff" stroke-width="0.4"/><text class="ll" x="619.0" y="263.94">Cold Spot - 95% Confidence</text><rect x="604.1" y="266.98" width="11.3" height="11.14" fill="#87CEFA" stroke="#fff" stroke-width="0.4"/><text class="ll" x="619.0" y="275.08">Cold Spot - 90% Confidence</text><rect x="604.1" y="278.12" width="11.3" height="11.14" fill="#F5F5F0" stroke="#fff" stroke-width="0.4"/><text class="ll" x="619.0" y="286.22">Not Significant</text><rect x="604.1" y="289.26" width="11.3" height="11.14" fill="#FAB984" stroke="#fff" stroke-width="0.4"/><text class="ll" x="619.0" y="297.36">Hot Spot - 90% Confidence</text><rect x="604.1" y="300.40" width="11.3" height="11.14" fill="#ED7551" stroke="#fff" stroke-width="0.4"/><text class="ll" x="619.0" y="308.50">Hot Spot - 95% Confidence</text><rect x="604.1" y="311.54" width="11.3" height="11.14" fill="#D62F27" stroke="#fff" stroke-width="0.4"/><text class="ll" x="619.0" y="319.64">Hot Spot - 99% Confidence</text></g>
</svg></body></html>
